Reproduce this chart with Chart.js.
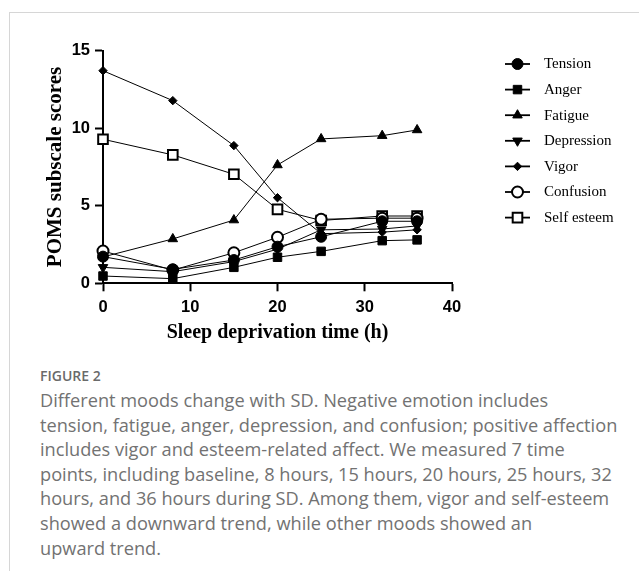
<!DOCTYPE html>
<html>
<head>
<meta charset="utf-8">
<script src="https://cdn.jsdelivr.net/npm/chart.js@4/dist/chart.umd.min.js"></script>
<style>
  html, body { margin: 0; padding: 0; background: #fff; }
  body { width: 639px; height: 571px; position: relative; overflow: hidden; }
  #frameTop { position: absolute; left: 9px; top: 12px; width: 630px; height: 0; border-top: 1px solid #d6d6d6; }
  #frameLeft { position: absolute; left: 9px; top: 12px; width: 0; height: 559px; border-left: 1px solid #d6d6d6; }
  #wrap { position: absolute; left: 0; top: 0; width: 639px; height: 345px; }
  #caption { position: absolute; left: 40px; top: 366px; color: #727272; font-family: "Open Sans", sans-serif; }
  #caption .fig { font-size: 14px; font-weight: 600; color: #6a6a6a; line-height: 20px; margin-bottom: 2px; }
  #caption .ln { font-size: 18.2px; line-height: 24.6px; white-space: nowrap; }
</style>
</head>
<body>
<div id="frameTop"></div>
<div id="frameLeft"></div>
<div id="wrap"><canvas id="c" width="639" height="345"></canvas></div>
<div id="caption">
  <div class="fig">FIGURE 2</div>
  <div class="ln">Different moods change with SD. Negative emotion includes</div>
  <div class="ln">tension, fatigue, anger, depression, and confusion; positive affection</div>
  <div class="ln">includes vigor and esteem-related affect. We measured 7 time</div>
  <div class="ln">points, including baseline, 8 hours, 15 hours, 20 hours, 25 hours, 32</div>
  <div class="ln">hours, and 36 hours during SD. Among them, vigor and self-esteem</div>
  <div class="ln">showed a downward trend, while other moods showed an</div>
  <div class="ln">upward trend.</div>
</div>
<script>
// ---- data ----
const hours      = [0, 8, 15, 20, 25, 32, 36];
const tension    = [1.72, 0.90, 1.50, 2.36, 3.00, 4.00, 4.00];
const anger      = [0.47, 0.30, 1.03, 1.68, 2.06, 2.75, 2.80];
const fatigue    = [1.70, 2.86, 4.08, 7.63, 9.31, 9.52, 9.89];
const depression = [1.03, 0.75, 1.40, 2.20, 3.45, 3.50, 3.70];
const vigor      = [13.71, 11.78, 8.88, 5.52, 3.20, 3.30, 3.45];
const confusion  = [2.08, 0.85, 1.97, 2.97, 4.13, 4.20, 4.20];
const selfEsteem = [9.29, 8.28, 7.03, 4.77, 4.05, 4.34, 4.34];
const seriesNames = ['Tension', 'Anger', 'Fatigue', 'Depression', 'Vigor', 'Confusion', 'Self esteem'];
const xTicks = [0, 10, 20, 30, 40];
const yTicks = [0, 5, 10, 15];

const seriesValues = [tension, anger, fatigue, depression, vigor, confusion, selfEsteem];
const styles = [
  { pointStyle: 'circle',   radius: 5.5, rotation: 0,   fill: '#000', bw: 1 },
  { pointStyle: 'rect',     radius: 6,   rotation: 0,   fill: '#000', bw: 1 },
  { pointStyle: 'triangle', radius: 5.5, rotation: 0,   fill: '#000', bw: 1 },
  { pointStyle: 'triangle', radius: 5.5, rotation: 180, fill: '#000', bw: 1 },
  { pointStyle: 'rectRot',  radius: 4.2, rotation: 0,   fill: '#000', bw: 1 },
  { pointStyle: 'circle',   radius: 5.5, rotation: 0,   fill: '#fff', bw: 2 },
  { pointStyle: 'rect',     radius: 6.8, rotation: 0,   fill: '#fff', bw: 2 }
];

const datasets = seriesNames.map((name, i) => ({
  label: name,
  data: hours.map((h, j) => ({ x: h, y: seriesValues[i][j] })),
  borderColor: '#000',
  borderWidth: 1,
  pointStyle: styles[i].pointStyle,
  pointRadius: styles[i].radius,
  pointRotation: styles[i].rotation,
  pointBackgroundColor: styles[i].fill,
  pointBorderColor: '#000',
  pointBorderWidth: styles[i].bw,
  fill: false,
  clip: false,
  tension: 0
}));

const legendPlugin = {
  id: 'sideLegend',
  afterDraw(chart) {
    const ctx = chart.ctx;
    ctx.save();
    chart.data.datasets.forEach((ds, i) => {
      const y = 64 + i * 25.6;
      ctx.strokeStyle = '#000';
      ctx.lineWidth = 1.8;
      ctx.beginPath();
      ctx.moveTo(505, y);
      ctx.lineTo(530, y);
      ctx.stroke();
      ctx.fillStyle = ds.pointBackgroundColor;
      ctx.strokeStyle = '#000';
      ctx.lineWidth = ds.pointBorderWidth;
      Chart.helpers.drawPoint(ctx, {
        pointStyle: ds.pointStyle,
        radius: ds.pointRadius,
        rotation: ds.pointRotation,
        borderWidth: ds.pointBorderWidth
      }, 517.5, y);
      ctx.fillStyle = '#000';
      ctx.font = '15px "Liberation Serif", "Times New Roman", serif';
      ctx.textBaseline = 'middle';
      ctx.textAlign = 'left';
      ctx.fillText(ds.label, 544, y + 0.5);
    });
    ctx.restore();
  }
};

new Chart(document.getElementById('c'), {
  type: 'line',
  data: { datasets },
  plugins: [legendPlugin],
  options: {
    responsive: false,
    animation: false,
    devicePixelRatio: 1,
    layout: { padding: { left: 43, right: 187, top: 50.7, bottom: 0 } },
    plugins: { legend: { display: false }, tooltip: { enabled: false } },
    scales: {
      x: {
        type: 'linear',
        min: 0, max: 40,
        afterBuildTicks: (s) => { s.ticks = xTicks.map(v => ({ value: v })); },
        afterFit: (s) => { s.height = 61.7; },
        ticks: { color: '#000', font: { family: 'Liberation Sans', size: 16.5, weight: 'bold' }, padding: 6, maxRotation: 0 },
        grid: { drawOnChartArea: false, drawTicks: true, tickLength: 8, tickWidth: 2, tickColor: '#000' },
        border: { display: true, color: '#000', width: 2 },
        title: { display: true, text: 'Sleep deprivation time (h)', color: '#000',
                 font: { family: 'Liberation Serif', size: 20, weight: 'bold' }, padding: { top: 0, bottom: 0 } }
      },
      y: {
        type: 'linear',
        min: 0, max: 15,
        afterBuildTicks: (s) => { s.ticks = yTicks.map(v => ({ value: v })); },
        afterFit: (s) => { s.width = 60; },
        ticks: { color: '#000', font: { family: 'Liberation Sans', size: 16.5, weight: 'bold' }, padding: 5 },
        grid: { drawOnChartArea: false, drawTicks: true, tickLength: 8, tickWidth: 2, tickColor: '#000' },
        border: { display: true, color: '#000', width: 2 },
        title: { display: true, text: 'POMS subscale scores', color: '#000',
                 font: { family: 'Liberation Serif', size: 21, weight: 'bold' }, padding: { top: 0, bottom: 0 } }
      }
    }
  }
});
</script>
</body>
</html>
